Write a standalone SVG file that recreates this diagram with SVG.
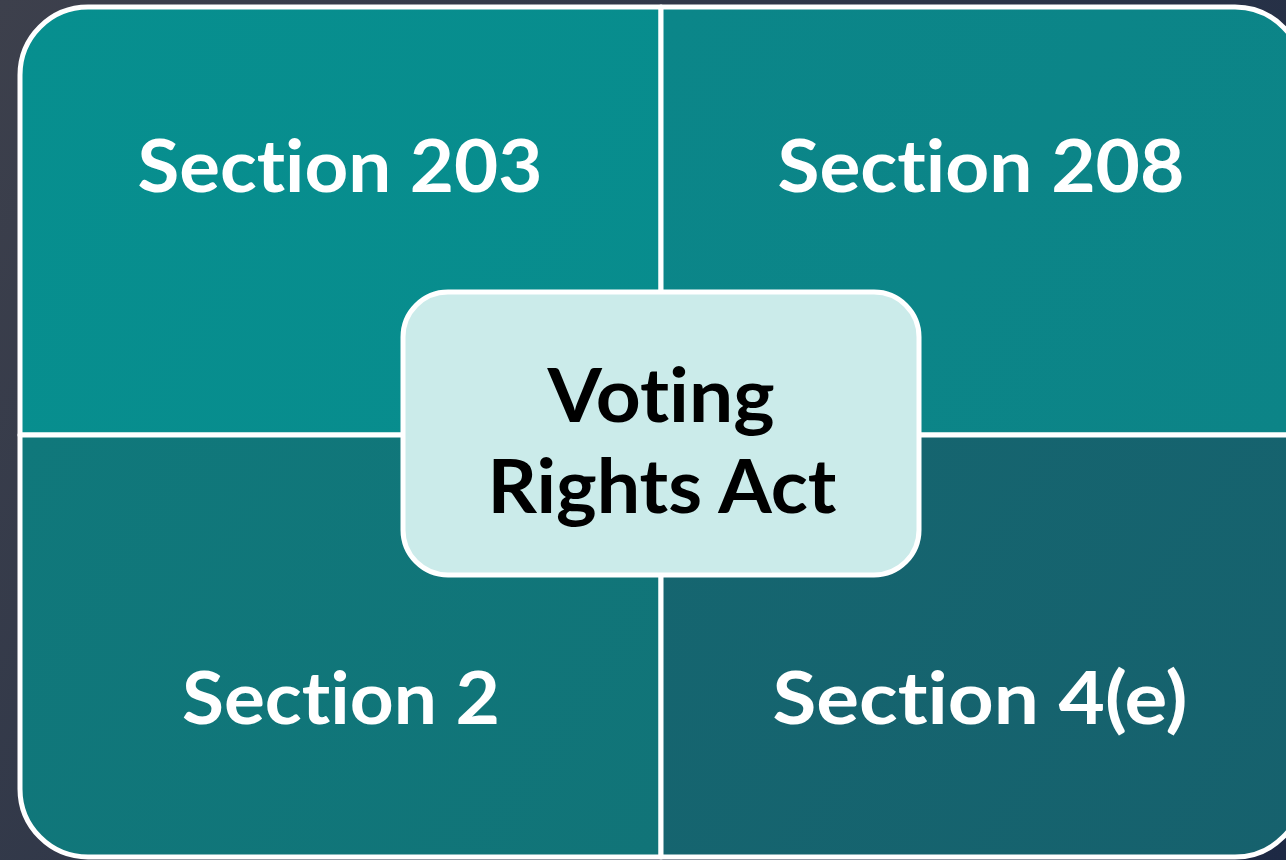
<svg xmlns="http://www.w3.org/2000/svg" width="1286" height="860" viewBox="0 0 1286 860">
  <defs>
    <linearGradient id="bg" x1="0" y1="0" x2="1286" y2="860" gradientUnits="userSpaceOnUse">
      <stop offset="0" stop-color="#3d404c"/>
      <stop offset="0.5" stop-color="#2c3548"/>
      <stop offset="1" stop-color="#1d2944"/>
    </linearGradient>
    <linearGradient id="gTL" x1="20" y1="7" x2="661" y2="435" gradientUnits="userSpaceOnUse">
      <stop offset="0" stop-color="#078f8f"/>
      <stop offset="1" stop-color="#088c8d"/>
    </linearGradient>
    <linearGradient id="gTR" x1="661" y1="7" x2="1303" y2="435" gradientUnits="userSpaceOnUse">
      <stop offset="0" stop-color="#0b8689"/>
      <stop offset="1" stop-color="#0c8487"/>
    </linearGradient>
    <linearGradient id="gBL" x1="20" y1="435" x2="661" y2="857" gradientUnits="userSpaceOnUse">
      <stop offset="0" stop-color="#10787b"/>
      <stop offset="1" stop-color="#117478"/>
    </linearGradient>
    <linearGradient id="gBR" x1="661" y1="435" x2="1303" y2="857" gradientUnits="userSpaceOnUse">
      <stop offset="0" stop-color="#156670"/>
      <stop offset="1" stop-color="#16616d"/>
    </linearGradient>
  </defs>
  <style>
    .quad { stroke: #ffffff; stroke-width: 5; stroke-linejoin: round; }
    .lbl { font-family: Lato, "Open Sans", "Liberation Sans", sans-serif; font-weight: 700; font-size: 72px; fill: #ffffff; text-anchor: middle; font-variant-ligatures: none; font-feature-settings: "liga" 0, "clig" 0; }
    .center { fill: #cbebea; stroke: #ffffff; stroke-width: 5; }
    .clbl { font-family: Lato, "Open Sans", "Liberation Sans", sans-serif; font-weight: 700; font-size: 75px; fill: #000000; text-anchor: middle; font-variant-ligatures: none; font-feature-settings: "liga" 0, "clig" 0; }
  </style>
  <rect x="0" y="0" width="1286" height="860" fill="url(#bg)"/>
  <g id="section-203">
    <path class="quad" fill="url(#gTL)" d="M20,435 V75 A68,68 0 0 1 88,7 H661 V435 Z"/>
    <text class="lbl" x="340" y="192" textLength="405" lengthAdjust="spacingAndGlyphs">Section 203</text>
  </g>
  <g id="section-208">
    <path class="quad" fill="url(#gTR)" d="M661,7 H1235 A68,68 0 0 1 1303,75 V435 H661 Z"/>
    <text class="lbl" x="981" y="192" textLength="407" lengthAdjust="spacingAndGlyphs">Section 208</text>
  </g>
  <g id="section-2">
    <path class="quad" fill="url(#gBL)" d="M20,435 H661 V857 H88 A68,68 0 0 1 20,789 Z"/>
    <text class="lbl" x="341" y="724" textLength="318" lengthAdjust="spacingAndGlyphs">Section 2</text>
  </g>
  <g id="section-4e">
    <path class="quad" fill="url(#gBR)" d="M661,435 H1303 V789 A68,68 0 0 1 1235,857 H661 Z"/>
    <text class="lbl" x="980" y="724" textLength="415" lengthAdjust="spacingAndGlyphs">Section 4(e)</text>
  </g>
  <g id="connectors"></g>
  <g id="voting-rights-act">
    <rect class="center" x="403" y="292" width="516" height="283" rx="45" ry="45"/>
    <text class="clbl" x="661" y="422" textLength="227" lengthAdjust="spacingAndGlyphs">Voting</text>
    <text class="clbl" x="662" y="513" textLength="349" lengthAdjust="spacingAndGlyphs">Rights Act</text>
  </g>
</svg>
